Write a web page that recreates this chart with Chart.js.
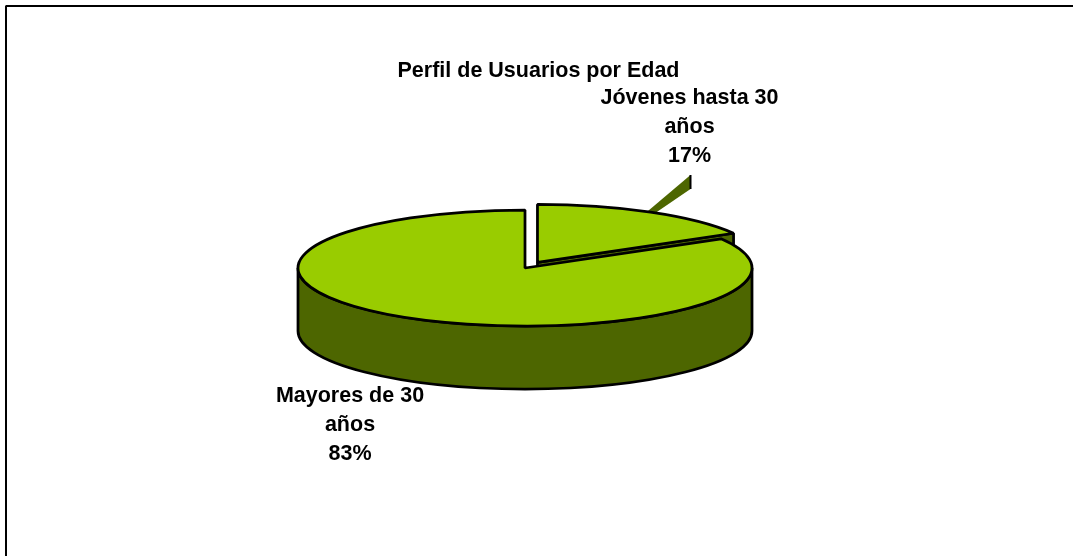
<!DOCTYPE html>
<html>
<head>
<meta charset="utf-8">
<script src="https://cdn.jsdelivr.net/npm/chart.js@4"></script>
<style>
  html, body { margin: 0; padding: 0; background: #fff; overflow: hidden; }
  canvas { display: block; }
</style>
</head>
<body>
<canvas id="chart" width="1073" height="556"></canvas>
<script>
// Data
const categories = ['Jóvenes hasta 30 años', 'Mayores de 30 años'];
const values = [16.6, 83.4];  // printed as 17% and 83%, the slice itself looks a bit under 17
const topColors = ['#99CC00', '#99CC00'];
const titleText = 'Perfil de Usuarios por Edad';

// label lines and where they sit (centre x, first line y)
const labelLines = [['Jóvenes hasta 30', 'años', '17%'], ['Mayores de 30', 'años', '83%']];
const labelPos = [[689.5, 98], [350, 396]];

const sideColor = '#4D6600';
const tilt = 58 / 227;   // squash of the circle into an ellipse
const depth = 63;        // height of the cake
const font = 'bold 21.5px "Liberation Sans", Arial, sans-serif';

// the arc elements come from chart.js, they are only projected here
function project(arc) {
  const mid = (arc.startAngle + arc.endAngle) / 2;
  const offset = arc.options.offset || 0;
  return {
    cx: arc.x + Math.cos(mid) * offset,
    cy: arc.y + Math.sin(mid) * offset * tilt,
    rx: arc.outerRadius,
    ry: arc.outerRadius * tilt,
    a0: arc.startAngle,
    a1: arc.endAngle,
    mid: mid
  };
}

function paint(ctx, fill) {
  ctx.fillStyle = fill;
  ctx.fill();
  ctx.strokeStyle = '#000';
  ctx.lineWidth = 2.75;
  ctx.stroke();
}

function drawWall(ctx, p) {
  ctx.beginPath();
  if (p.a1 <= 0) {
    // slice stays in the back half: only its cut face can be seen
    const ex = p.cx + Math.cos(p.a1) * p.rx;
    const ey = p.cy + Math.sin(p.a1) * p.ry;
    ctx.moveTo(p.cx, p.cy);
    ctx.lineTo(ex, ey);
    ctx.lineTo(ex, ey + depth);
    ctx.lineTo(p.cx, p.cy + depth);
  } else {
    ctx.ellipse(p.cx, p.cy, p.rx, p.ry, 0, 0, Math.PI);
    ctx.ellipse(p.cx, p.cy + depth, p.rx, p.ry, 0, Math.PI, 0, true);
  }
  ctx.closePath();
  paint(ctx, sideColor);
}

function drawTop(ctx, p, color) {
  ctx.beginPath();
  ctx.moveTo(p.cx, p.cy);
  ctx.ellipse(p.cx, p.cy, p.rx, p.ry, 0, p.a0, p.a1);
  ctx.closePath();
  paint(ctx, color);
}

// odd wedge shaped leader from the small slice to its label
function drawLeader(ctx, p) {
  const a = p.mid - 1 * Math.PI / 180;
  const b = p.mid + 1.4 * Math.PI / 180;
  ctx.beginPath();
  ctx.moveTo(p.cx + Math.cos(a) * p.rx, p.cy + Math.sin(a) * p.ry);
  ctx.lineTo(690.5, 175);
  ctx.lineTo(690.5, 189);
  ctx.lineTo(p.cx + Math.cos(b) * p.rx, p.cy + Math.sin(b) * p.ry);
  ctx.closePath();
  ctx.fillStyle = sideColor;
  ctx.fill();
  ctx.beginPath();
  ctx.moveTo(690.5, 175);
  ctx.lineTo(690.5, 189);
  ctx.strokeStyle = '#000';
  ctx.lineWidth = 2;
  ctx.stroke();
}

const pie3d = {
  id: 'pie3d',
  beforeDatasetDraw() {
    return false;
  },
  afterDatasetsDraw(chart) {
    const ctx = chart.ctx;
    const arcs = chart.getDatasetMeta(0).data;
    const parts = arcs.map(project);

    ctx.save();
    ctx.lineJoin = 'bevel';

    // frame, only top and left are inside the picture
    ctx.beginPath();
    ctx.moveTo(6, 556);
    ctx.lineTo(6, 6);
    ctx.lineTo(1073, 6);
    ctx.strokeStyle = '#000';
    ctx.lineWidth = 2;
    ctx.stroke();

    drawLeader(ctx, parts[0]);
    parts.forEach((p, i) => {
      drawWall(ctx, p);
      drawTop(ctx, p, topColors[i]);
    });

    ctx.fillStyle = '#000';
    ctx.font = font;
    ctx.textAlign = 'center';
    ctx.textBaseline = 'middle';
    ctx.fillText(titleText, 538.5, 71);
    labelLines.forEach((lines, i) => {
      lines.forEach((line, j) => {
        ctx.fillText(line, labelPos[i][0], labelPos[i][1] + j * 29);
      });
    });
    ctx.restore();
  }
};

new Chart(document.getElementById('chart'), {
  type: 'pie',
  data: {
    labels: categories,
    datasets: [{
      data: values,
      backgroundColor: topColors,
      borderWidth: 0,
      radius: 227,
      offset: [25, 0]
    }]
  },
  options: {
    responsive: false,
    animation: false,
    events: [],
    layout: { padding: { right: 23, bottom: 20 } },
    plugins: {
      legend: { display: false },
      tooltip: { enabled: false },
      title: { display: false }
    }
  },
  plugins: [pie3d]
});
</script>
</body>
</html>
